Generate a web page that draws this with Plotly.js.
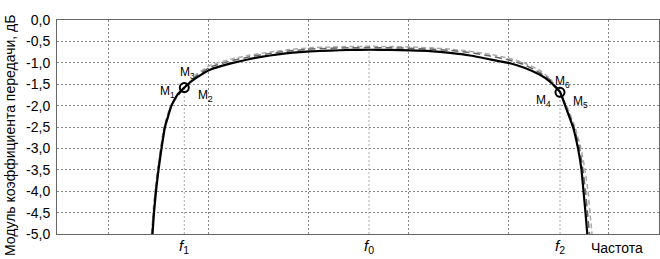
<!DOCTYPE html>
<html><head><meta charset="utf-8">
<script src="https://cdn.plot.ly/plotly-3.0.1.min.js"></script>
<style>body{margin:0;background:#fff}#c{width:660px;height:259px}</style>
</head><body><div id="c"></div>
<script>
// Frequency axis in arbitrary units (grid every 1 unit)
const solidX = [1.445,1.46,1.48,1.505,1.535,1.57,1.635,1.69,1.763,1.82,1.89,2.02,2.22,2.42,2.62,2.82,3.02,3.22,3.42,3.62,3.82,4.02,4.22,4.42,4.62,4.82,5.02,5.17,5.32,5.42,5.52,5.575,5.65,5.70,5.735,5.755,5.775,5.793];
const solidY = [-5,-4.5,-4,-3.5,-3,-2.5,-2,-1.76,-1.58,-1.46,-1.34,-1.16,-1.02,-0.91,-0.83,-0.77,-0.735,-0.715,-0.70,-0.695,-0.70,-0.71,-0.725,-0.77,-0.83,-0.92,-1.01,-1.12,-1.28,-1.44,-1.68,-2.02,-2.5,-3.0,-3.5,-4.0,-4.5,-5.0];
const dashAX = [1.44,1.455,1.475,1.50,1.53,1.565,1.63,1.763,1.89,2.02,2.22,2.42,2.62,2.82,3.02,3.22,3.42,3.62,3.82,4.02,4.22,4.42,4.62,4.82,5.02,5.17,5.32,5.42,5.52,5.58,5.66,5.715,5.75,5.775,5.795,5.815];
const dashAY = [-5,-4.5,-4,-3.5,-3,-2.5,-2,-1.58,-1.30,-1.10,-0.96,-0.86,-0.78,-0.72,-0.68,-0.66,-0.65,-0.645,-0.65,-0.66,-0.68,-0.71,-0.76,-0.84,-0.94,-1.05,-1.23,-1.40,-1.69,-2.02,-2.5,-3.0,-3.5,-4.0,-4.5,-5.0];
const dashBX = [1.435,1.45,1.47,1.495,1.525,1.56,1.625,1.763,1.89,2.02,2.22,2.42,2.62,2.82,3.02,3.22,3.42,3.62,3.82,4.02,4.22,4.42,4.62,4.82,5.02,5.17,5.32,5.42,5.52,5.59,5.67,5.73,5.77,5.80,5.82,5.84];
const dashBY = [-5,-4.5,-4,-3.5,-3,-2.5,-2,-1.58,-1.26,-1.06,-0.92,-0.82,-0.75,-0.69,-0.65,-0.63,-0.62,-0.615,-0.62,-0.63,-0.65,-0.68,-0.73,-0.80,-0.90,-1.01,-1.18,-1.37,-1.69,-2.02,-2.5,-3.0,-3.5,-4.0,-4.5,-5.0];

const markX = [1.763, 5.52];
const markY = [-1.58, -1.69];
const fX = [1.763, 3.61, 5.52];
const fTopY = [-1.58, -0.695, -1.69];
const fLabels = ['<i>f</i><sub>1</sub>', '<i>f</i><sub>0</sub>', '<i>f</i><sub>2</sub>'];
const gridX = [1, 2, 3, 4, 5, 6];
const yTickVals = [0,-0.5,-1,-1.5,-2,-2.5,-3,-3.5,-4,-4.5,-5];
const yTickText = ['0,0','-0,5','-1,0','-1,5','-2,0','-2,5','-3,0','-3,5','-4,0','-4,5','-5,0'];
const mLabels = ['M<sub>1</sub>','M<sub>2</sub>','M<sub>3</sub>','M<sub>4</sub>','M<sub>5</sub>','M<sub>6</sub>'];

const fam = 'Liberation Sans';
const traces = [];
// drop lines
fX.forEach((x, i) => traces.push({x: [x, x], y: [-5, fTopY[i]], mode: 'lines',
  line: {color: '#aaa', width: 1, dash: '2px,2px'}, hoverinfo: 'skip', showlegend: false}));
traces.push({x: dashBX, y: dashBY, mode: 'lines', line: {color: '#aaa', width: 1.5, dash: '5px,3px', shape: 'spline', smoothing: 0.3}, showlegend: false});
traces.push({x: dashAX, y: dashAY, mode: 'lines', line: {color: '#666', width: 1.5, dash: '7px,4px', shape: 'spline', smoothing: 0.3}, showlegend: false});
traces.push({x: solidX, y: solidY, mode: 'lines', line: {color: '#000', width: 2.2, shape: 'spline', smoothing: 0.3}, showlegend: false});
traces.push({x: markX, y: markY, mode: 'markers', marker: {symbol: 'circle-open', size: 9, color: '#000', line: {width: 2, color: '#000'}}, showlegend: false});

const mFont = {family: fam, size: 12, color: '#000'};
const annotations = [
  {x: markX[0], y: markY[0], xshift: -17, yshift: -4, text: mLabels[0]},
  {x: markX[0], y: markY[0], xshift: 21, yshift: -8, text: mLabels[1]},
  {x: markX[0], y: markY[0], xshift: 3, yshift: 15, text: mLabels[2]},
  {x: markX[1], y: markY[1], xshift: -17, yshift: -9, text: mLabels[3]},
  {x: markX[1], y: markY[1], xshift: 20, yshift: -10, text: mLabels[4]},
  {x: markX[1], y: markY[1], xshift: 2, yshift: 10, text: mLabels[5]}
].map(a => Object.assign({xref: 'x', yref: 'y', xanchor: 'center', yanchor: 'middle', showarrow: false, font: mFont}, a));
fX.forEach((x, i) => annotations.push({xref: 'x', yref: 'paper', x: x, y: 0, xanchor: 'center', yanchor: 'top', yshift: -1,
  text: fLabels[i], showarrow: false, font: {family: fam, size: 15, color: '#000'}}));
annotations.push({xref: 'paper', yref: 'paper', x: 0.93, y: 0, xanchor: 'center', yanchor: 'top', yshift: -4, text: 'Частота', showarrow: false,
  font: {family: fam, size: 14, color: '#000'}});
annotations.push({xref: 'paper', yref: 'paper', x: 0, xshift: -47, y: 0.5, yshift: -9, xanchor: 'center', yanchor: 'middle',
  text: 'Модуль коэффициента передачи, дБ',
  textangle: -90, showarrow: false, font: {family: fam, size: 14, color: '#000'}});

const layout = {
  width: 660, height: 259,
  margin: {l: 57, r: 1, t: 20, b: 25},
  paper_bgcolor: '#fff', plot_bgcolor: '#fff',
  showlegend: false,
  font: {family: fam, color: '#000'},
  xaxis: {range: [0.49, 6.51], tickvals: gridX, showticklabels: false, ticks: '',
    showgrid: true, gridcolor: '#888', griddash: '2px,2px', gridwidth: 1,
    showline: true, linecolor: '#666', linewidth: 1, mirror: true, zeroline: false},
  yaxis: {range: [-5, 0], tickvals: yTickVals, ticktext: yTickText, ticks: '',
    showgrid: true, gridcolor: '#888', griddash: '2px,2px', gridwidth: 1,
    showline: true, linecolor: '#666', linewidth: 1, mirror: true, zeroline: false,
    tickfont: {family: fam, size: 14, color: '#000'}, ticklabelstandoff: 3},
  annotations: annotations
};
Plotly.newPlot('c', traces, layout, {staticPlot: true, displayModeBar: false});
</script></body></html>
